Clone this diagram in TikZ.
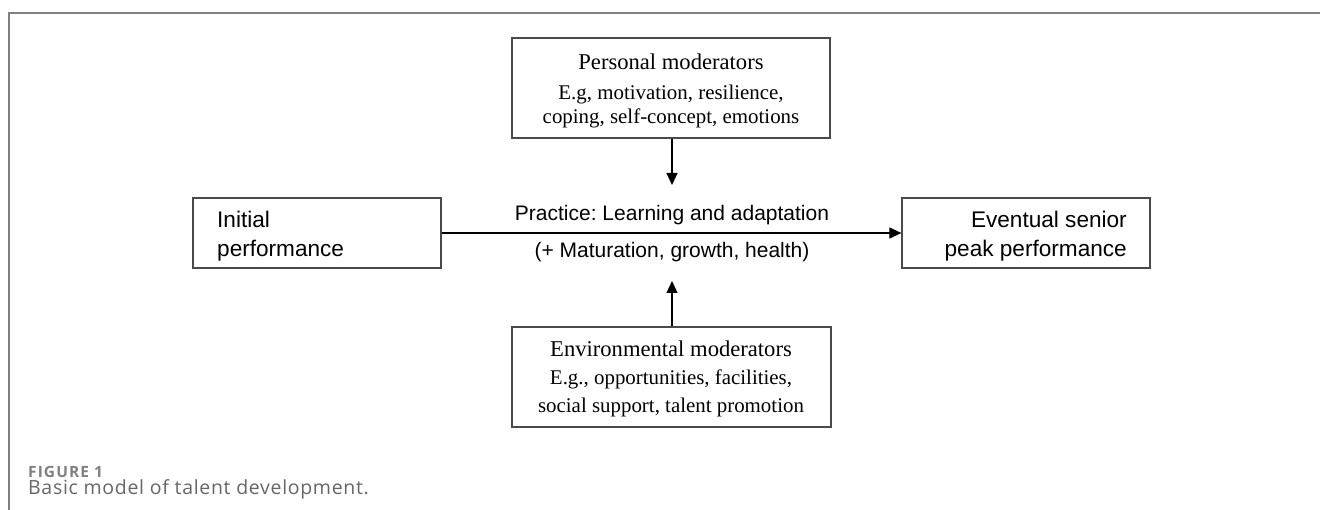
\documentclass[tikz,border=0pt]{standalone}
\usepackage{fontspec}
\setmainfont{Liberation Serif}
\setsansfont{Liberation Sans}
\newfontfamily\capfont[LetterSpace=3.5]{Open Sans}
\newfontfamily\figfont[LetterSpace=7]{Open Sans}
\usetikzlibrary{arrows.meta}
\frenchspacing
\definecolor{framegray}{HTML}{808080}
\definecolor{boxgray}{HTML}{4A4A4A}
\definecolor{capgray}{HTML}{666666}
\tikzset{
  box/.style={draw=boxgray, line width=1.3pt, inner sep=0pt, fill=white},
  sanstxt/.style={font=\sffamily\fontsize{22.6}{27}\selectfont, inner sep=0pt},
  lbltxt/.style={font=\sffamily\fontsize{21}{25}\selectfont, inner sep=0pt},
  sertitle/.style={font=\rmfamily\fontsize{22.6}{27}\selectfont, inner sep=0pt},
  sertxt/.style={font=\rmfamily\fontsize{20.9}{25}\selectfont, inner sep=0pt},
  conn/.style={draw=black, line width=1.2pt, -{Triangle[length=12pt,width=11pt]}},
}
\begin{document}
\begin{tikzpicture}[x=1pt,y=-1pt]
\useasboundingbox (0,0) rectangle (1320,510);
% frame
\coordinate (fa) at (9,13);
\coordinate (fb) at (1320,13);
\coordinate (fc) at (9,510);
\draw[framegray, line width=1.5pt] (fb) -- (fa) -- (fc);

% boxes
\node[box, minimum width=248pt, minimum height=70pt] (init) at (317,233) {};
\node[box, minimum width=248pt, minimum height=70pt] (peak) at (1026,233) {};
\node[box, minimum width=318pt, minimum height=100pt] (pers) at (671,88) {};
\node[box, minimum width=319pt, minimum height=100pt] (env) at (671.5,377) {};

% initial text
\node[sanstxt, anchor=base west] (init1) at (217,228) {Initial};
\node[sanstxt, anchor=base west] (init2) at (217,257) {performance};
% eventual text
\node[sanstxt, anchor=base east] (peak1) at (1127,228) {Eventual senior};
\node[sanstxt, anchor=base east] (peak2) at (1127,257) {peak performance};

% personal text
\node[sertitle, anchor=base] (pers1) at (671,70) {Personal moderators};
\node[sertxt, anchor=base] (pers2) at (671,100) {E.g, motivation, resilience,};
\node[sertxt, anchor=base] (pers3) at (671,124) {coping, self-concept, emotions};

% environmental text
\node[sertitle, anchor=base] (env1) at (671,357) {Environmental moderators};
\node[sertxt, anchor=base] (env2) at (671,385) {E.g., opportunities, facilities,};
\node[sertxt, anchor=base] (env3) at (671,413) {social support, talent promotion};

% main arrow and labels
\draw[conn] (init.east) -- (peak.west);
\node[lbltxt, anchor=base] (prac) at (672,221) {Practice: Learning and adaptation};
\node[lbltxt, anchor=base] (matu) at (672,258) {(+ Maturation, growth, health)};

% vertical arrows
\coordinate (downtip) at (672,185);
\coordinate (uptip) at (672,281);
\draw[conn] (pers.south -| downtip) -- (downtip);
\draw[conn] (env.north -| uptip) -- (uptip);

% caption
\node[font=\figfont\bfseries\fontsize{15.5}{18}\selectfont, text=framegray, anchor=base west, inner sep=0pt] (figlbl) at (28,477) {FIGURE 1};
\node[font=\capfont\fontsize{19.5}{22}\selectfont, text=capgray, anchor=base west, inner sep=0pt] (figcap) at (28,494) {Basic model of talent development.};
\end{tikzpicture}
\end{document}
